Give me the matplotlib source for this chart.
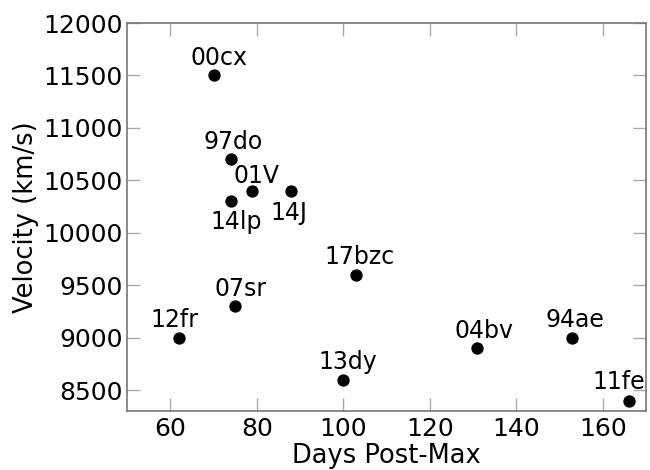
import matplotlib
matplotlib.use('Agg')
import matplotlib.pyplot as plt

names = ['00cx', '97do', '01V', '14lp', '14J', '17bzc', '07sr', '12fr', '13dy', '04bv', '94ae', '11fe']
days = [70, 74, 79, 74, 88, 103, 75, 62, 100, 131, 153, 166]
vel = [11500, 10700, 10400, 10300, 10400, 9600, 9300, 9000, 8600, 8900, 9000, 8400]

# label offsets in points (dx, dy); negative dy puts label below the dot
offs = {'00cx': (4, 7.5), '97do': (2, 7.5), '01V': (3, 5.5), '14lp': (4, -6),
        '14J': (-1.5, -7), '17bzc': (2.5, 7.5), '07sr': (4, 7.5), '12fr': (-3, 7.5),
        '13dy': (3.5, 7.5), '04bv': (5, 7.5), '94ae': (1.5, 7.5), '11fe': (-7, 8.4)}

fig = plt.figure(figsize=(6.5, 4.7), dpi=100)
ax = fig.add_axes([127/650, 1-411/470, (646-127)/650, (411-23)/470])

ax.scatter(days, vel, s=62, c='black', zorder=3)
for n, x, y in zip(names, days, vel):
    dx, dy = offs.get(n, (0, 7.5))
    va = 'top' if dy < 0 else 'baseline'
    ax.annotate(n, (x, y), xytext=(dx, dy), textcoords='offset points',
                ha='center', va=va, fontsize=17)

ax.set_xlim(50, 170)
ax.set_ylim(8300, 12000)
ax.set_xticks([60, 80, 100, 120, 140, 160])
ax.set_yticks(range(8500, 12001, 500))
ax.tick_params(direction='in', length=9.5, width=1, color='#aaaaaa',
               labelsize=18, top=True, right=True)
ax.tick_params(axis='x', pad=4)
ax.tick_params(axis='y', pad=3)
for sp in ax.spines.values():
    sp.set_color('#777777')
    sp.set_linewidth(1.2)
ax.set_xlabel('Days Post-Max', fontsize=18.5, labelpad=2)
ax.set_ylabel('Velocity (km/s)', fontsize=18.5, labelpad=3)

fig.savefig('out.png', dpi=100)
